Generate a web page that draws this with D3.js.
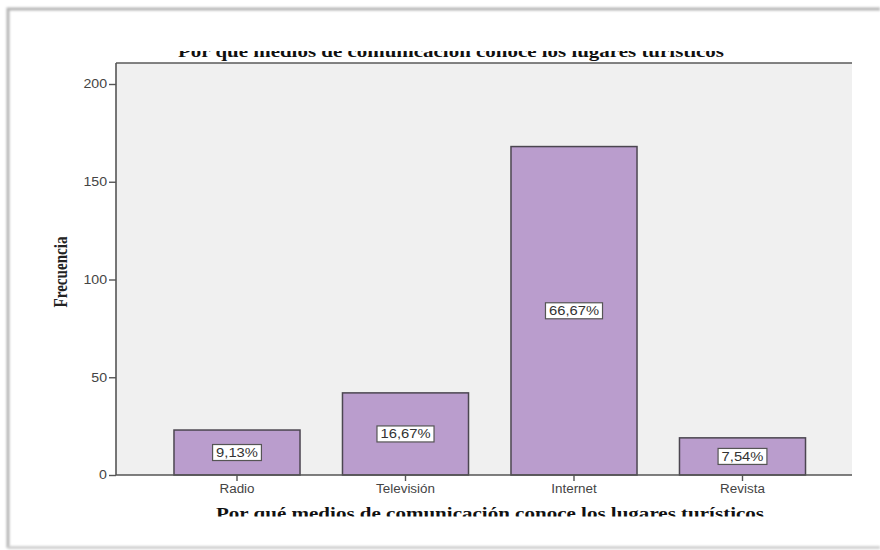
<!DOCTYPE html>
<html>
<head>
<meta charset="utf-8">
<script src="https://cdn.jsdelivr.net/npm/d3@7"></script>
<style>
  html, body { margin: 0; padding: 0; background: #fff; }
  svg { display: block; }
</style>
</head>
<body>
<svg id="chart" width="880" height="550"></svg>
<script>
// Frecuencias por medio de comunicación
const categories = ["Radio", "Televisión", "Internet", "Revista"];
const counts = [23, 42, 168, 19];
const percentLabels = ["9,13%", "16,67%", "66,67%", "7,54%"];
const yTicks = [0, 50, 100, 150, 200];
const titleText = "Por qué medios de comunicación conoce los lugares turísticos";
const yTitle = "Frecuencia";

const svg = d3.select("#chart");
const defs = svg.append("defs");
const sansFont = "Liberation Sans, Arial, sans-serif";
const serifFont = "Liberation Serif, Times New Roman, serif";

// widen text horizontally by a factor
function stretch(sel, k) {
  sel.each(function () {
    const w = this.getComputedTextLength();
    d3.select(this).attr("textLength", w * k).attr("lengthAdjust", "spacingAndGlyphs");
  });
}

// panel edges (soft grey)
const blur = defs.append("filter").attr("id", "soft")
  .attr("filterUnits", "userSpaceOnUse").attr("x", 0).attr("y", 0).attr("width", 880).attr("height", 550);
blur.append("feGaussianBlur").attr("stdDeviation", 1.1);
const edges = svg.append("g").attr("filter", "url(#soft)").attr("stroke", "#b5b5b5").attr("stroke-width", 3).attr("fill", "none");
edges.append("path").attr("d", "M8,548V9H880");
edges.append("path").attr("d", "M8,547.5H880").attr("stroke", "#d0d0d0");

const plot = { left: 116, top: 63, right: 852, bottom: 475 };

const y = d3.scaleLinear().domain([0, 200]).range([plot.bottom, 84]);
const x = d3.scaleBand().domain(categories).range([152.75, 826.75]).paddingInner(0.252).paddingOuter(0.126);

// plot background
svg.append("rect")
  .attr("x", plot.left).attr("y", plot.top)
  .attr("width", plot.right - plot.left).attr("height", plot.bottom - plot.top)
  .attr("fill", "#f0f0f0");

// top edge of the frame
svg.append("line").attr("x1", plot.left).attr("x2", plot.right).attr("y1", plot.top).attr("y2", plot.top)
  .attr("stroke", "#5a5a5a").attr("stroke-width", 1.6);

// bars
svg.append("g").selectAll("rect").data(counts).join("rect")
  .attr("x", (d, i) => x(categories[i]))
  .attr("y", d => y(d))
  .attr("width", x.bandwidth())
  .attr("height", d => y(0) - y(d))
  .attr("fill", "#ba9dcd")
  .attr("stroke", "#4b4650")
  .attr("stroke-width", 1.5);

// y axis
const yAxis = svg.append("g").attr("transform", `translate(${plot.left},0)`)
  .call(d3.axisLeft(y).tickValues(yTicks).tickSize(7).tickPadding(2));
yAxis.select(".domain").attr("d", `M0,${plot.top}V${plot.bottom}`).attr("stroke", "#555").attr("stroke-width", 1.6);
yAxis.selectAll(".tick line").attr("stroke", "#555").attr("stroke-width", 1.4);
yAxis.selectAll(".tick text").attr("font-family", sansFont)
  .attr("font-size", 12).attr("fill", "#444").call(stretch, 1.18);

// x axis
const xAxis = svg.append("g").attr("transform", `translate(0,${plot.bottom})`)
  .call(d3.axisBottom(x).tickSize(6).tickPadding(3));
xAxis.select(".domain").attr("d", `M${plot.left},0H${plot.right}`).attr("stroke", "#555").attr("stroke-width", 1.6);
xAxis.selectAll(".tick line").attr("stroke", "#555").attr("stroke-width", 1.4);
xAxis.selectAll(".tick text").attr("font-family", sansFont)
  .attr("font-size", 12).attr("fill", "#444").call(stretch, 1.12);

// percentage labels in boxes, centred in each bar
const lab = svg.append("g").selectAll("g").data(counts).join("g")
  .attr("transform", (d, i) => `translate(${x(categories[i]) + x.bandwidth() / 2},${(y(d) + y(0)) / 2})`);
lab.append("text")
  .attr("text-anchor", "middle").attr("dy", "0.36em")
  .attr("font-family", sansFont).attr("font-size", 12.5).attr("fill", "#333")
  .text((d, i) => percentLabels[i])
  .call(stretch, 1.18);
lab.each(function () {
  const g = d3.select(this);
  const t = g.select("text").node();
  const w = +t.getAttribute("textLength");
  g.insert("rect", "text")
    .attr("x", -w / 2 - 3.5).attr("y", -8).attr("width", w + 7).attr("height", 16)
    .attr("fill", "#fff").attr("stroke", "#555").attr("stroke-width", 1.2);
});

// y title
svg.append("text")
  .attr("transform", "translate(67,272) rotate(-90)")
  .attr("text-anchor", "middle")
  .attr("font-family", serifFont)
  .attr("font-size", 18).attr("font-weight", "bold").attr("fill", "#222")
  .attr("textLength", 71).attr("lengthAdjust", "spacingAndGlyphs")
  .text(yTitle);

// titles, partly clipped by the panel
defs.append("clipPath").attr("id", "clipTop").append("rect").attr("x", 0).attr("y", 51).attr("width", 880).attr("height", 11);
defs.append("clipPath").attr("id", "clipBottom").append("rect").attr("x", 0).attr("y", 500).attr("width", 880).attr("height", 16.5);

svg.append("text")
  .attr("clip-path", "url(#clipTop)")
  .attr("x", 451).attr("y", 57)
  .attr("text-anchor", "middle")
  .attr("font-family", serifFont)
  .attr("font-size", 17).attr("font-weight", "bold").attr("fill", "#111")
  .attr("textLength", 546).attr("lengthAdjust", "spacingAndGlyphs")
  .text(titleText);

svg.append("text")
  .attr("clip-path", "url(#clipBottom)")
  .attr("x", 490).attr("y", 519)
  .attr("text-anchor", "middle")
  .attr("font-family", serifFont)
  .attr("font-size", 17).attr("font-weight", "bold").attr("fill", "#111")
  .attr("textLength", 548).attr("lengthAdjust", "spacingAndGlyphs")
  .text(titleText);
</script>
</body>
</html>
